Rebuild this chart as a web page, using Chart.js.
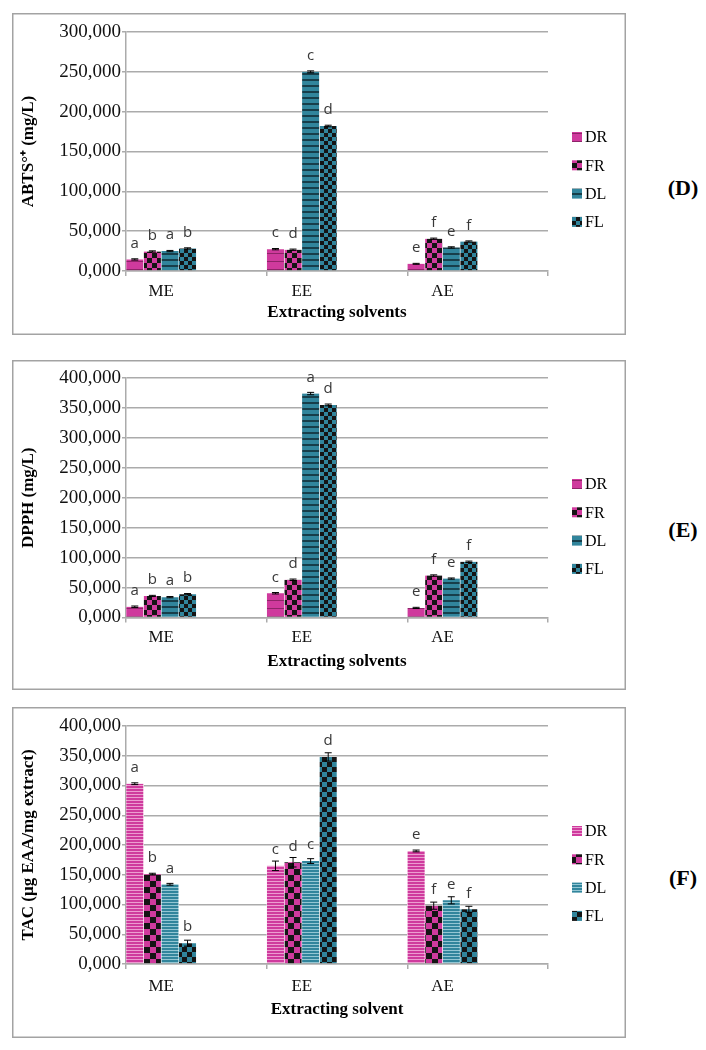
<!DOCTYPE html>
<html>
<head>
<meta charset="utf-8">
<script src="https://cdn.jsdelivr.net/npm/chart.js@4.4.1/dist/chart.umd.min.js"></script>
<style>
  html, body { margin: 0; padding: 0; background: #fff; }
  body { width: 706px; height: 1050px; position: relative; overflow: hidden; }
  canvas { position: absolute; left: 12px; }
  .tag { position: absolute; width: 60px; margin-left: -30px; margin-top: -12px; text-align: center;
         font: bold 22px "Liberation Serif", serif; line-height: 24px; color: #000; }
</style>
</head>
<body>
<canvas id="chartD" style="top:13px"></canvas>
<canvas id="chartE" style="top:360px"></canvas>
<canvas id="chartF" style="top:707px"></canvas>
<div class="tag" style="left:683px;top:188px">(D)</div>
<div class="tag" style="left:683px;top:530px">(E)</div>
<div class="tag" style="left:683px;top:878px">(F)</div>
<script>
const categories = ['ME', 'EE', 'AE'];
const seriesNames = ['DR', 'FR', 'DL', 'FL'];

// (D) ABTS
const abtsTicks = [0, 50, 100, 150, 200, 250, 300];
const abtsDR = [14.5, 27.4, 9.0];
const abtsFR = [24.5, 26.7, 40.5];
const abtsDL = [25.0, 250.0, 29.6];
const abtsFL = [28.3, 182.0, 37.0];
const abtsErrDR = [0.8, 0.8, 0.6];
const abtsErrFR = [0.8, 0.8, 0.8];
const abtsErrDL = [0.8, 1.2, 0.8];
const abtsErrFL = [0.8, 1.0, 0.8];
const abtsLetDR = ['a', 'c', 'e'];
const abtsLetFR = ['b', 'd', 'f'];
const abtsLetDL = ['a', 'c', 'e'];
const abtsLetFL = ['b', 'd', 'f'];

// (E) DPPH
const dpphTicks = [0, 50, 100, 150, 200, 250, 300, 350, 400];
const dpphDR = [18, 40.5, 16];
const dpphFR = [36, 63, 70];
const dpphDL = [34, 374, 65];
const dpphFL = [39, 355, 93];
const dpphErrDR = [1.2, 1.2, 1.0];
const dpphErrFR = [1.0, 1.2, 1.2];
const dpphErrDL = [1.0, 2.0, 1.0];
const dpphErrFL = [1.0, 1.5, 1.2];
const dpphLetDR = ['a', 'c', 'e'];
const dpphLetFR = ['b', 'd', 'f'];
const dpphLetDL = ['a', 'a', 'e'];
const dpphLetFL = ['b', 'd', 'f'];

// (F) TAC
const tacTicks = [0, 50, 100, 150, 200, 250, 300, 350, 400];
const tacDR = [303, 165, 190];
const tacFR = [151, 171, 98];
const tacDL = [134, 173, 107];
const tacFL = [35, 348, 92];
const tacErrDR = [1.5, 8, 1.5];
const tacErrFR = [1.5, 8, 6];
const tacErrDL = [1.5, 4, 6];
const tacErrFL = [5, 7, 5];
const tacLetDR = ['a', 'c', 'e'];
const tacLetFR = ['b', 'd', 'f'];
const tacLetDL = ['a', 'c', 'e'];
const tacLetFL = ['b', 'd', 'f'];

const MAGENTA = '#cf3a9d';
const TEAL = '#31859c';
const DARK = '#141414';
const GRID = '#ababab';
const SERIF = '"Liberation Serif", "Times New Roman", serif';

function stripes(base, line, period, lineH) {
  const c = document.createElement('canvas');
  c.width = 4; c.height = period;
  const g = c.getContext('2d');
  g.fillStyle = base; g.fillRect(0, 0, 4, period);
  g.fillStyle = line; g.fillRect(0, 0, 4, lineH);
  return g.createPattern(c, 'repeat');
}

function checker(base, dark, cell) {
  const c = document.createElement('canvas');
  c.width = cell * 2; c.height = cell * 2;
  const g = c.getContext('2d');
  g.fillStyle = base; g.fillRect(0, 0, cell * 2, cell * 2);
  g.fillStyle = dark;
  g.fillRect(0, 0, cell, cell);
  g.fillRect(cell, cell, cell, cell);
  return g.createPattern(c, 'repeat');
}

const plainFills = [
  stripes(MAGENTA, '#8e2469', 8, 1),
  checker(MAGENTA, DARK, 5),
  stripes(TEAL, '#173e4a', 6, 2),
  checker(TEAL, DARK, 4)
];
const denseFills = [
  stripes(MAGENTA, '#ec9bd0', 3, 1),
  checker(MAGENTA, DARK, 6),
  stripes(TEAL, '#93c6d3', 3, 1),
  checker(TEAL, DARK, 5)
];

function marksPlugin(p, fills) {
  return {
    id: 'marks',
    afterDatasetsDraw(chart) {
      const ctx = chart.ctx;
      const y = chart.scales.y;
      ctx.save();
      chart.data.datasets.forEach((ds, i) => {
        chart.getDatasetMeta(i).data.forEach((bar, j) => {
          if (j % 2) return;
          const k = j / 2;
          const v = p.values[i][k], e = p.errors[i][k];
          const top = y.getPixelForValue(v + e), bot = y.getPixelForValue(v - e);
          ctx.strokeStyle = '#000';
          ctx.lineWidth = 1;
          ctx.beginPath();
          ctx.moveTo(bar.x, top); ctx.lineTo(bar.x, bot);
          ctx.moveTo(bar.x - 3.5, top); ctx.lineTo(bar.x + 3.5, top);
          ctx.moveTo(bar.x - 3.5, bot); ctx.lineTo(bar.x + 3.5, bot);
          ctx.stroke();
          ctx.fillStyle = '#383838';
          ctx.font = '15px "Open Sans", sans-serif';
          ctx.textAlign = 'center';
          ctx.textBaseline = 'middle';
          ctx.fillText(p.letters[i][k], bar.x, bar.y - 16);
        });
      });
      ctx.restore();
    },
    afterDraw(chart) {
      const ctx = chart.ctx;
      ctx.save();
      // legend
      seriesNames.forEach((name, i) => {
        const cy = 124 + i * 28.3;
        ctx.fillStyle = fills[i];
        ctx.fillRect(560, cy - 5, 10, 10);
        ctx.fillStyle = '#000';
        ctx.font = '16px ' + SERIF;
        ctx.textAlign = 'left';
        ctx.textBaseline = 'middle';
        ctx.fillText(name, 573, cy + 1);
      });
      // frame
      ctx.strokeStyle = '#a3a3a3';
      ctx.lineWidth = 1.5;
      ctx.strokeRect(0.75, 0.75, chart.width - 1.5, chart.height - 1.5);
      ctx.restore();
    }
  };
}

function buildChart(p) {
  const canvas = document.getElementById(p.canvas);
  canvas.width = 614;
  canvas.height = p.height;
  const fills = p.dense ? denseFills : plainFills;
  const slots = categories.flatMap(c => [c, '']);
  const xHeight = p.titleY + 22.2 - p.chartBottom;
  const padBottom = p.height - p.chartBottom - xHeight;

  new Chart(canvas.getContext('2d'), {
    type: 'bar',
    data: {
      labels: slots,
      datasets: seriesNames.map((name, i) => ({
        label: name,
        data: p.values[i].flatMap(v => [v, null]),
        backgroundColor: fills[i],
        borderColor: '#ffffff',
        borderWidth: { left: 0.6, right: 0.6, top: 0, bottom: 0 },
        categoryPercentage: 1,
        barPercentage: 1
      }))
    },
    options: {
      responsive: false,
      animation: false,
      devicePixelRatio: 1,
      layout: { padding: { top: p.chartTop, right: 78, left: 0, bottom: padBottom } },
      plugins: { legend: { display: false }, tooltip: { enabled: false } },
      scales: {
        x: {
          offset: true,
          grid: {
            drawOnChartArea: false,
            drawTicks: true,
            tickLength: 5,
            lineWidth: 1.5,
            color: c => (c.index === undefined || c.index % 2 === 0) ? GRID : 'rgba(0,0,0,0)'
          },
          border: { display: true, color: GRID, width: 1.5 },
          ticks: { color: '#111', font: { family: SERIF, size: 17 }, padding: p.labelPad, autoSkip: false, maxRotation: 0 },
          title: {
            display: true, text: p.xTitle, color: '#000',
            font: { family: SERIF, size: 17, weight: 'bold' },
            padding: { top: 0, bottom: 12 }
          },
          afterFit: s => { s.height = xHeight; }
        },
        y: {
          min: p.ticks[0],
          max: p.ticks[p.ticks.length - 1],
          grid: { color: GRID, lineWidth: 1.5, drawTicks: true, tickLength: 4 },
          border: { display: true, color: GRID, width: 1.5 },
          ticks: {
            stepSize: p.ticks[1] - p.ticks[0],
            autoSkip: false,
            color: '#111',
            font: { family: SERIF, size: 19 },
            padding: 1,
            callback: v => v.toFixed(3).replace('.', ',')
          },
          title: {
            display: true, text: p.yTitle, color: '#000',
            font: { family: SERIF, size: 17, weight: 'bold' },
            padding: { top: 6, bottom: 0 }
          },
          afterFit: s => { s.width = 114; }
        }
      }
    },
    plugins: [marksPlugin(p, fills)]
  });
}

buildChart({
  canvas: 'chartD', height: 322, chartTop: 19, chartBottom: 258, titleY: 300, labelPad: 5, dense: false,
  yTitle: 'ABTS°⁺ (mg/L)', xTitle: 'Extracting solvents', ticks: abtsTicks,
  values: [abtsDR, abtsFR, abtsDL, abtsFL],
  errors: [abtsErrDR, abtsErrFR, abtsErrDL, abtsErrFL],
  letters: [abtsLetDR, abtsLetFR, abtsLetDL, abtsLetFL]
});
buildChart({
  canvas: 'chartE', height: 330, chartTop: 18, chartBottom: 257.5, titleY: 302, labelPad: 5, dense: false,
  yTitle: 'DPPH (mg/L)', xTitle: 'Extracting solvents', ticks: dpphTicks,
  values: [dpphDR, dpphFR, dpphDL, dpphFL],
  errors: [dpphErrDR, dpphErrFR, dpphErrDL, dpphErrFL],
  letters: [dpphLetDR, dpphLetFR, dpphLetDL, dpphLetFL]
});
buildChart({
  canvas: 'chartF', height: 331, chartTop: 19, chartBottom: 257, titleY: 303, labelPad: 7, dense: true,
  yTitle: 'TAC (µg EAA/mg extract)', xTitle: 'Extracting solvent', ticks: tacTicks,
  values: [tacDR, tacFR, tacDL, tacFL],
  errors: [tacErrDR, tacErrFR, tacErrDL, tacErrFL],
  letters: [tacLetDR, tacLetFR, tacLetDL, tacLetFL]
});
</script>
</body>
</html>
